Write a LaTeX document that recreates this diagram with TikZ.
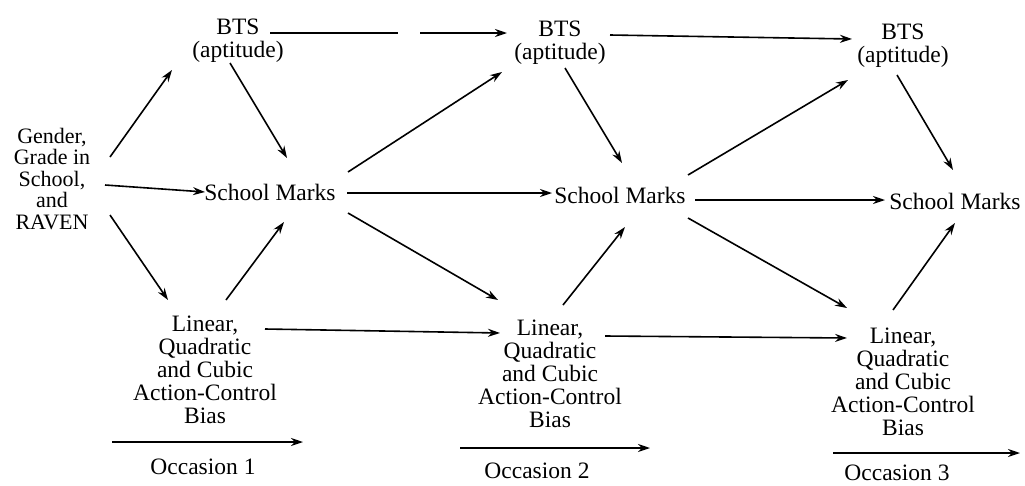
\documentclass[tikz,border=0pt]{standalone}
\usepackage{fontspec}
\setmainfont{Liberation Serif}
\usetikzlibrary{arrows.meta}
\begin{document}
\begin{tikzpicture}[x=1pt,y=-1pt,
  lbl/.style={align=center,inner sep=0pt,font=\fontsize{23.5}{23}\selectfont},
  arr/.style={line width=1.6pt,-{Stealth[length=12pt,width=8pt]}}]
\useasboundingbox (0,0) rectangle (1025,485);

% nodes
\node[lbl] (bts1) at (238,41) {BTS\\(aptitude)};
\node[lbl] (bts2) at (560,43) {BTS\\(aptitude)};
\node[lbl] (bts3) at (903,46) {BTS\\(aptitude)};
\node[lbl,font=\fontsize{22}{21.5}\selectfont] (g) at (52,179) {Gender,\\Grade in\\School,\\and\\RAVEN};
\node[lbl] (sm1) at (270,192) {School Marks};
\node[lbl] (sm2) at (620,195) {School Marks};
\node[lbl] (sm3) at (955,201) {School Marks};
\node[lbl] (lin1) at (205,370) {Linear,\\Quadratic\\and Cubic\\Action-Control\\Bias};
\node[lbl] (lin2) at (550,374) {Linear,\\Quadratic\\and Cubic\\Action-Control\\Bias};
\node[lbl] (lin3) at (903,382) {Linear,\\Quadratic\\and Cubic\\Action-Control\\Bias};
\node[lbl] (occ1) at (203,467) {Occasion 1};
\node[lbl] (occ2) at (537,471) {Occasion 2};
\node[lbl] (occ3) at (897,473) {Occasion 3};

% occasion arrows
\coordinate (o1s) at (112,442); \coordinate (o1e) at (303,442);
\coordinate (o2s) at (460,448); \coordinate (o2e) at (650,448);
\coordinate (o3s) at (833,453); \coordinate (o3e) at (1020,453);
\draw[arr] (o1s) -- (o1e);
\draw[arr] (o2s) -- (o2e);
\draw[arr] (o3s) -- (o3e);

% occasion 1
\draw[arr] ([shift={(58,-22)}]g.center) -- ([shift={(-66,29)}]bts1.center);
\draw[arr] ([shift={(53,6)}]g.center) -- ([shift={(-65,0)}]sm1.center);
\draw[arr] ([shift={(58,36)}]g.center) -- ([shift={(-37,-70)}]lin1.center);
\draw[arr] ([shift={(-8,22)}]bts1.center) -- ([shift={(17,-34)}]sm1.center);
\draw[arr] ([shift={(21,-70)}]lin1.center) -- ([shift={(14,30)}]sm1.center);

% occasion 1 -> 2
\draw[arr,dash pattern=on 128pt off 22pt on 300pt] ([shift={(32,-8)}]bts1.center) -- ([shift={(-53,-10)}]bts2.center);
\draw[arr] ([shift={(78,-20)}]sm1.center) -- ([shift={(-58,29)}]bts2.center);
\draw[arr] ([shift={(77,1)}]sm1.center) -- ([shift={(-68,-2)}]sm2.center);
\draw[arr] ([shift={(78,21)}]sm1.center) -- ([shift={(-52,-74)}]lin2.center);
\draw[arr] ([shift={(60,-41)}]lin1.center) -- ([shift={(-50,-41)}]lin2.center);

% occasion 2
\draw[arr] ([shift={(5,25)}]bts2.center) -- ([shift={(2,-32)}]sm2.center);
\draw[arr] ([shift={(13,-69)}]lin2.center) -- ([shift={(5,32)}]sm2.center);

% occasion 2 -> 3
\draw[arr] ([shift={(50,-8)}]bts2.center) -- ([shift={(-51,-7)}]bts3.center);
\draw[arr] ([shift={(68,-20)}]sm2.center) -- ([shift={(-55,34)}]bts3.center);
\draw[arr] ([shift={(75,5)}]sm2.center) -- ([shift={(-70,-1)}]sm3.center);
\draw[arr] ([shift={(68,23)}]sm2.center) -- ([shift={(-56,-74)}]lin3.center);
\draw[arr] ([shift={(55,-38)}]lin2.center) -- ([shift={(-56,-44)}]lin3.center);

% occasion 3
\draw[arr] ([shift={(-6,29)}]bts3.center) -- ([shift={(-2,-31)}]sm3.center);
\draw[arr] ([shift={(-10,-72)}]lin3.center) -- ([shift={(0,22)}]sm3.center);
\end{tikzpicture}
\end{document}
